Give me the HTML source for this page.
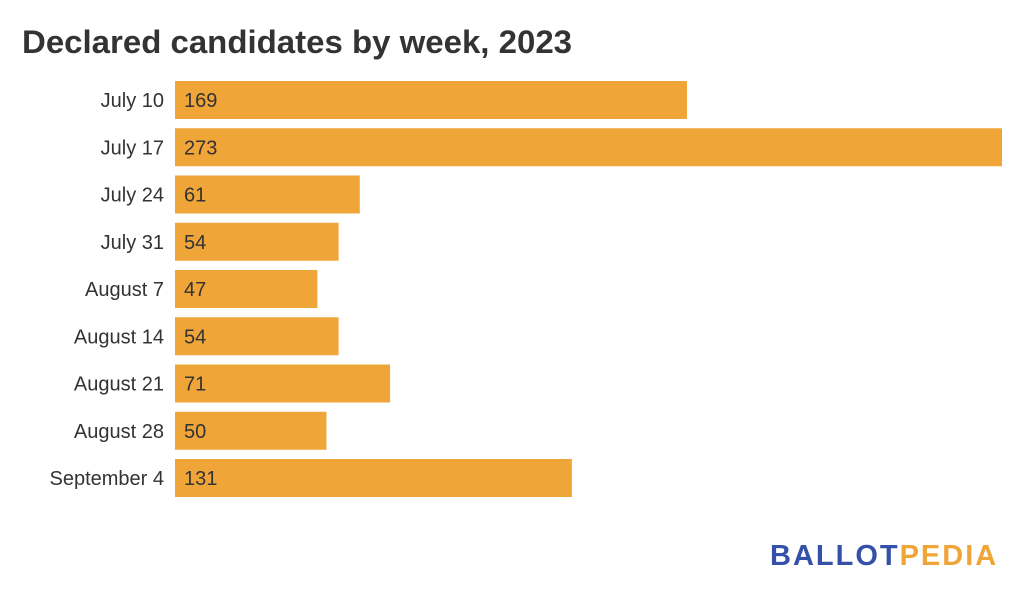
<!DOCTYPE html>
<html><head><meta charset="utf-8"><style>
body{margin:0;background:#fff;width:1024px;height:599px;overflow:hidden;font-family:"Liberation Sans",sans-serif}
</style></head><body>
<svg width="1024" height="599">
<text x="22" y="53" font-size="32" font-weight="bold" fill="#333" textLength="550" lengthAdjust="spacingAndGlyphs">Declared candidates by week, 2023</text>
<g id="bars"></g>
<text x="770" y="565" font-size="29" font-weight="bold" fill="#3450a8" letter-spacing="2">BALLOT<tspan fill="#f0a538">PEDIA</tspan></text>
</svg>
<script>
const categories=["July 10","July 17","July 24","July 31","August 7","August 14","August 21","August 28","September 4"];
const values=[169,273,61,54,47,54,71,50,131];
const x0=175,xMax=1002,maxV=273,top0=81,pitch=47.25,bh=38;
const xs=v=>x0+(v/maxV)*(xMax-x0);
const g=document.getElementById('bars');
const ns="http://www.w3.org/2000/svg";
categories.forEach((c,i)=>{
  const y=top0+i*pitch;
  const r=document.createElementNS(ns,'rect');
  r.setAttribute('x',x0);r.setAttribute('y',y);r.setAttribute('width',xs(values[i])-x0);r.setAttribute('height',bh);r.setAttribute('fill','#f0a538');
  
  
  g.appendChild(r);
  const l=document.createElementNS(ns,'text');
  l.setAttribute('x',164);l.setAttribute('y',y+bh/2+7);l.setAttribute('text-anchor','end');l.setAttribute('font-size','20');l.setAttribute('fill','#333');
  l.textContent=c;
  
  
  g.appendChild(l);
  const v=document.createElementNS(ns,'text');
  v.setAttribute('x',184);v.setAttribute('y',y+bh/2+7);v.setAttribute('font-size','20');v.setAttribute('fill','#333');
  v.textContent=values[i];
  
  
  g.appendChild(v);
});
</script>
</body></html>
